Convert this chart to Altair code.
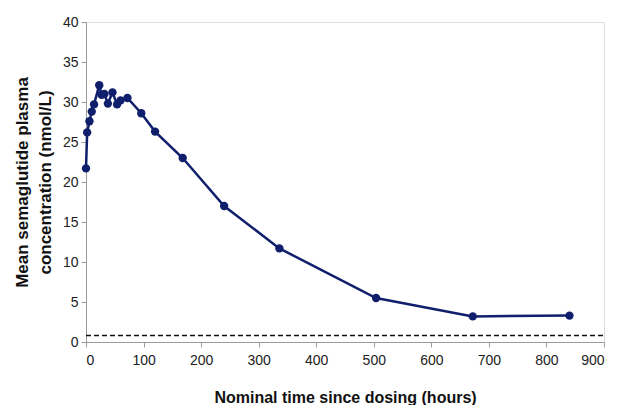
import altair as alt
import pandas as pd

hours = [0, 2, 6, 10, 14, 23, 27, 32, 38, 46, 54, 60, 72, 96, 120, 168, 240, 336, 504, 672, 840]
conc = [21.7, 26.2, 27.6, 28.8, 29.7, 32.1, 30.9, 31.0, 29.8, 31.2, 29.7, 30.2, 30.5,
        28.6, 26.3, 23.0, 17.0, 11.7, 5.5, 3.2, 3.3]
lloq = [0.8]
x_ticks = [0, 100, 200, 300, 400, 500, 600, 700, 800, 900]
y_ticks = [0, 5, 10, 15, 20, 25, 30, 35, 40]

df = pd.DataFrame({"t": hours, "c": conc})
ref = pd.DataFrame({"x0": [0], "x1": [900], "y": lloq})

FONT = "Liberation Sans"

xscale = alt.Scale(domain=[0, 900], nice=False, zero=True)
yscale = alt.Scale(domain=[0, 40], nice=False)

xaxis = alt.Axis(values=x_ticks, grid=False, domainColor="#9a9a9a",
                 tickColor="#9a9a9a", tickSize=5, labelFont=FONT, labelFontSize=14,
                 labelColor="#222222", labelPadding=6, labelOverlap=False,
                 title="Nominal time since dosing (hours)",
                 titleFont=FONT, titleFontSize=16, titleFontWeight="bold", titleColor="#111111",
                 titlePadding=22)
yaxis = alt.Axis(values=y_ticks, grid=False, domainColor="#9a9a9a",
                 tickColor="#9a9a9a", tickSize=5, labelFont=FONT, labelFontSize=14,
                 labelColor="#222222", labelPadding=3, labelOverlap=False,
                 title=["Mean semaglutide plasma", "concentration (nmol/L)"],
                 titleFont=FONT, titleFontSize=17, titleFontWeight="bold", titleColor="#111111",
                 titlePadding=8, titleLineHeight=23)

base = alt.Chart(df)
line = base.mark_line(color="#0f1f6b", strokeWidth=2.5).encode(
    x=alt.X("t:Q", scale=xscale, axis=xaxis),
    y=alt.Y("c:Q", scale=yscale, axis=yaxis),
)
pts = base.mark_point(filled=True, color="#0f1f6b", size=70, opacity=1).encode(
    x=alt.X("t:Q", scale=xscale, axis=xaxis),
    y=alt.Y("c:Q", scale=yscale, axis=yaxis),
)
dash = alt.Chart(ref).mark_rule(color="#111111", strokeWidth=1.5, strokeDash=[5, 3]).encode(
    x=alt.X("x0:Q", scale=xscale, axis=xaxis), x2="x1:Q",
    y=alt.Y("y:Q", scale=yscale, axis=yaxis),
)

chart = alt.layer(dash, line, pts).properties(
    width=518, height=320,
    autosize=alt.AutoSizeParams(type="none"),
    padding={"left": 78, "top": 14, "right": 5, "bottom": 63},
).configure_view(stroke=None).configure(background="white")

chart.save("out.html", embed_options={"renderer": "svg", "actions": False})
